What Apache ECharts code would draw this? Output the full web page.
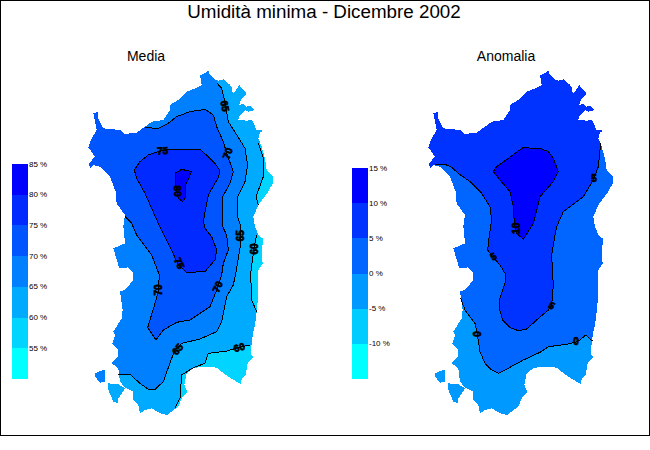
<!DOCTYPE html>
<html><head><meta charset="utf-8">
<style>html,body{margin:0;padding:0;background:#fff}#c{width:650px;height:450px}
svg path,svg rect{shape-rendering:crispEdges}</style>
<script src="https://cdn.jsdelivr.net/npm/echarts@6/dist/echarts.min.js"></script>
</head><body><div id="c"></div>
<script>
// Map units: 3 units = 1 screen pixel; both panels share one coast.
const island=[[355,45],[365,45],[385,33],[390,45],[405,60],[415,62],[430,58],[440,68],[448,72],[457,85],[458,103],[465,95],[478,75],[485,85],[497,95],[497,105],[483,118],[478,135],[490,130],[497,140],[510,138],[525,150],[505,155],[495,150],[480,165],[475,180],[500,182],[515,180],[522,190],[528,210],[550,212],[540,218],[535,235],[545,260],[555,295],[560,330],[578,350],[578,370],[565,395],[535,435],[520,470],[525,500],[535,525],[550,537],[545,575],[548,610],[535,630],[535,705],[530,755],[525,795],[520,815],[515,845],[513,885],[520,890],[503,910],[497,945],[485,955],[483,973],[465,962],[445,950],[425,935],[410,923],[385,920],[360,920],[340,925],[320,940],[313,975],[322,995],[305,1015],[295,1040],[280,1050],[262,1065],[240,1060],[215,1045],[195,1050],[180,1060],[175,1035],[160,1020],[160,995],[135,983],[120,965],[115,925],[95,910],[115,890],[115,870],[97,850],[105,825],[100,815],[125,775],[128,750],[120,695],[135,690],[160,660],[160,640],[145,622],[118,625],[100,565],[135,550],[130,500],[135,465],[110,430],[107,395],[90,350],[60,320],[40,315],[30,325],[27,310],[45,290],[25,262],[35,235],[50,210],[45,185],[40,160],[55,155],[55,175],[70,205],[120,210],[135,222],[170,218],[195,200],[215,185],[250,180],[270,150],[270,135],[295,120],[320,95],[345,85],[365,75],[360,45]];
const sanPietro=[[45,940],[55,935],[75,928],[75,965],[60,968],[45,950]];
const santAntioco=[[85,970],[115,973],[135,985],[115,1015],[115,1030],[100,1025],[85,990]];

// Media contours
const media60Upper=[[535,250],[552,300],[550,350],[528,410],[535,435]];
const media60Lower=[[530,525],[522,565],[512,640],[515,720],[530,755]];
const media60South=[[510,855],[478,862],[440,873],[385,880],[375,910],[340,923],[305,945],[300,1015],[285,1045]];
const media65=[[410,68],[425,85],[435,125],[445,185],[480,240],[495,265],[503,315],[495,365],[473,410],[473,470],[483,500],[480,565],[470,625],[460,675],[440,710],[425,785],[410,815],[360,837],[305,850],[285,870],[275,895],[250,965],[225,988],[205,988],[180,970],[150,943],[115,945]];
const media70=[[195,203],[235,205],[262,192],[290,170],[330,155],[375,148],[400,165],[410,200],[430,245],[440,280],[460,335],[450,370],[428,410],[428,500],[440,525],[445,570],[430,610],[425,645],[412,685],[390,740],[360,760],[330,780],[290,787],[250,810],[228,840],[203,803],[225,730],[235,695],[238,645],[215,585],[170,525],[155,490],[135,470]];
const media75=[[235,275],[258,268],[360,268],[385,290],[405,310],[420,332],[415,352],[385,405],[378,440],[370,485],[375,505],[395,530],[410,570],[405,600],[375,635],[320,637],[295,615],[270,560],[235,490],[195,400],[170,355],[163,330],[180,305],[205,285],[235,275]];
const media80=[[285,340],[305,328],[335,335],[315,380],[315,415],[308,425],[295,415],[285,370],[285,340]];
// Anomalia contours
const anom0=[[122,715],[135,750],[165,790],[172,822],[180,875],[195,910],[215,930],[235,940],[255,930],[310,900],[360,877],[385,860],[440,853],[465,847],[480,840],[497,825],[517,843]];
const anom5=[[45,313],[75,313],[95,322],[115,340],[150,365],[185,400],[210,440],[215,480],[208,525],[203,570],[218,590],[240,615],[258,645],[255,670],[240,715],[238,745],[248,780],[270,803],[295,812],[320,807],[350,780],[385,750],[395,737],[400,675],[397,625],[395,585],[405,525],[410,500],[430,455],[490,410],[520,360],[535,320],[540,270],[543,250]];
const anom10=[[310,262],[335,265],[365,267],[385,275],[400,295],[415,335],[400,365],[360,410],[355,430],[340,490],[310,538],[290,520],[283,490],[280,440],[270,395],[240,360],[220,335],[230,320],[265,295],[310,262]];

// Contour labels: x, y, text, rotation in degrees
const mediaLabels=[[248,272,'75',3],[293,393,'80',-88],[435,138,'65',-80],[443,280,'70',70],[480,527,'65',90],[522,567,'60',90],[298,610,'75',-65],[235,690,'70',90],[413,680,'70',65],[293,868,'65',50],[478,862,'60',15]];
const anomLabels=[[220,590,'5',30],[522,356,'5',0],[288,505,'10',90],[395,737,'5',-30],[172,822,'0',90],[468,845,'0',0]];

const mediaColors=['#00d4ff','#00aaff','#0080ff','#0055ff','#002aff','#0000ff'];
const anomColors=['#0099ff','#0066ff','#0033ff','#0000ff'];

// Colour keys
const mediaBands=[[80,85],[75,80],[70,75],[65,70],[60,65],[55,60],[50,55]];
const mediaBandColors=['#0000ff','#002aff','#0055ff','#0080ff','#00aaff','#00d4ff','#00ffff'];
const anomBands=[[10,15],[5,10],[0,5],[-5,0],[-10,-5],[-15,-10]];
const anomBandColors=['#0000ff','#0033ff','#0066ff','#0099ff','#00ccff','#00ffff'];

const titleText='Umidità minima - Dicembre 2002';
const panelTitles=['Media','Anomalia'];

const FONT='"Liberation Sans",Arial,sans-serif';
const W=630,H=1095;
let zc=1;
function poly(g,pts,color){return {type:'custom',coordinateSystem:'cartesian2d',xAxisIndex:g,yAxisIndex:g,z:zc++,silent:true,animation:false,clip:false,data:pts,
  renderItem:(p,api)=>p.dataIndex?null:({type:'polygon',shape:{points:pts.map(q=>api.coord(q))},style:{fill:color,stroke:null}})};}
function line(g,pts){return {type:'line',xAxisIndex:g,yAxisIndex:g,z:zc++,silent:true,animation:false,clip:false,symbol:'none',data:pts,lineStyle:{color:'#000',width:1}};}
function labels(g,arr){return {type:'custom',xAxisIndex:g,yAxisIndex:g,z:zc++,silent:true,animation:false,clip:false,data:arr.map(a=>[a[0],a[1]]),
  renderItem:(p,api)=>{const a=arr[p.dataIndex],c=api.coord([a[0],a[1]]);return {type:'text',x:c[0],y:c[1],rotation:a[3]*Math.PI/180,style:{text:a[2],font:'bold 10px '+FONT,fill:'#000',stroke:'#000',lineWidth:.7,align:'center',verticalAlign:'middle'}};}};}
function key(g,bands,cols){return {type:'custom',xAxisIndex:g,yAxisIndex:g,z:zc++,silent:true,animation:false,data:bands,
  renderItem:(p,api)=>{const a=api.coord([0,api.value(1)]),b=api.coord([1,api.value(0)]);return {type:'rect',shape:{x:a[0],y:a[1],width:b[0]-a[0],height:b[1]-a[1]},style:{fill:cols[p.dataIndex]}};}};}
const sea=[[0,0],[W,0],[W,H],[0,H],[0,0],island[0]].concat(island.slice().reverse(),[[0,0]]);

const series=[
 poly(0,[[0,0],[W,0],[W,H],[0,H]],mediaColors[1]),
 poly(0,media60Upper.concat([[W,435],[W,250]]),mediaColors[0]),
 poly(0,media60Lower.concat([[W,755],[W,525]]),mediaColors[0]),
 poly(0,media60South.concat([[285,H],[W,H],[W,855]]),mediaColors[0]),
 poly(0,media65.concat([[0,945],[0,0],[410,0]]),mediaColors[2]),
 poly(0,media70.concat([[0,470],[0,100],[195,100]]),mediaColors[3]),
 poly(0,media75,mediaColors[4]),
 poly(0,media80,mediaColors[5]),
 poly(0,sea,'#fff'),
 poly(0,sanPietro,mediaColors[2]),
 poly(0,santAntioco,mediaColors[1]),
 line(0,media60Upper),line(0,media60Lower),line(0,media60South),line(0,media65),line(0,media70),line(0,media75),line(0,media80),
 labels(0,mediaLabels),
 poly(1,[[0,0],[W,0],[W,H],[0,H]],anomColors[0]),
 poly(1,anom0.concat([[W,843],[W,0],[0,0],[0,715]]),anomColors[1]),
 poly(1,anom5.concat([[W,250],[W,0],[0,0],[0,330],[40,330]]),anomColors[2]),
 poly(1,anom10,anomColors[3]),
 poly(1,sea,'#fff'),
 poly(1,sanPietro,anomColors[0]),
 poly(1,santAntioco,anomColors[0]),
 line(1,anom0),line(1,anom5),line(1,anom10),
 labels(1,anomLabels),
 key(2,mediaBands,mediaBandColors),
 key(3,anomBands,anomBandColors)
];
const mapX=g=>({gridIndex:g,type:'value',min:0,max:W,show:false});
const mapY=g=>({gridIndex:g,type:'value',min:0,max:H,inverse:true,show:false});
const keyX=g=>({gridIndex:g,type:'value',min:0,max:1,show:false});
const keyY=(g,min,max)=>({gridIndex:g,type:'value',min,max,interval:5,position:'right',axisLine:{show:false},axisTick:{show:false},splitLine:{show:false},
  axisLabel:{margin:1,fontSize:8,fontFamily:FONT,color:'#000',showMinLabel:false,formatter:v=>v===min?'':v+' %'}});
const chart=echarts.init(document.getElementById('c'),null,{renderer:'svg'});
chart.setOption({animation:false,backgroundColor:'#fff',
 title:[
  {text:titleText,left:324,top:2,padding:0,z:200,textAlign:'center',textStyle:{fontFamily:FONT,fontSize:18.8,fontWeight:'normal',color:'#000'}},
  {text:panelTitles[0],left:146,top:49,padding:0,z:200,textAlign:'center',textStyle:{fontFamily:FONT,fontSize:14,fontWeight:'normal',color:'#000'}},
  {text:panelTitles[1],left:506,top:49,padding:0,z:200,textAlign:'center',textStyle:{fontFamily:FONT,fontSize:14,fontWeight:'normal',color:'#000'}}],
 graphic:[{type:'rect',silent:true,z:100,shape:{x:0.5,y:0.5,width:649,height:435},style:{fill:'none',stroke:'#000',lineWidth:1}}],
 grid:[{left:80,top:60,width:210,height:365},{left:420,top:60,width:210,height:365},{left:12,top:164,width:16,height:215},{left:352,top:168,width:16,height:211}],
 xAxis:[mapX(0),mapX(1),keyX(2),keyX(3)],
 yAxis:[mapY(0),mapY(1),keyY(2,50,85),keyY(3,-15,15)],
 series});
</script></body></html>
